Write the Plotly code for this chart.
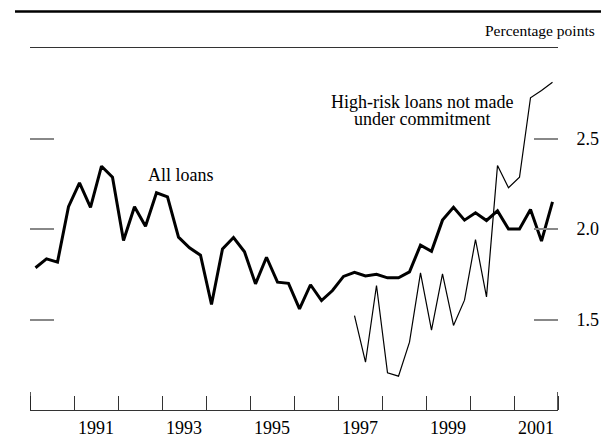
import plotly.graph_objects as go

# ---- data (quarterly survey, Feb/May/Aug/Nov) ----
start_year = 1990
quarters_all = [f"{start_year + i // 4} Q{i % 4 + 1}" for i in range(48)]
all_loans = [1.786, 1.835, 1.817, 2.123, 2.255, 2.12, 2.347, 2.286, 1.936, 2.123,
             2.015, 2.2, 2.178, 1.955, 1.896, 1.855, 1.583, 1.89, 1.953, 1.874,
             1.697, 1.844, 1.706, 1.70, 1.559, 1.692, 1.605, 1.66, 1.738, 1.761,
             1.741, 1.75, 1.73, 1.73, 1.763, 1.911, 1.877, 2.049, 2.12, 2.049,
             2.09, 2.047, 2.1, 2.0, 2.0, 2.108, 1.933, 2.15]
quarters_high = quarters_all[29:]
high_risk = [1.522, 1.264, 1.688, 1.205, 1.187, 1.375, 1.758, 1.441, 1.752, 1.467,
             1.607, 1.942, 1.625, 2.351, 2.228, 2.286, 2.725, 2.765, 2.811]

year_labels = ["1991", "1993", "1995", "1997", "1999", "2001"]
y_tick_vals = [1.5, 2.0, 2.5]
y_tick_text = ["1.5", "2.0", "2.5"]
x_range = [1990, 2002]
y_range = [1.0, 3.0]


def q_pos(q):
    y, qq = q.split(" Q")
    return int(y) + (int(qq) - 1) * 0.25 + 0.125


FONT = "Liberation Serif, Times New Roman, serif"

fig = go.Figure()
fig.add_trace(go.Scatter(x=[q_pos(q) for q in quarters_all], y=all_loans, mode="lines",
                         line=dict(color="black", width=3), name="All loans",
                         hoverinfo="skip"))
fig.add_trace(go.Scatter(x=[q_pos(q) for q in quarters_high], y=high_risk, mode="lines",
                         line=dict(color="black", width=1.2), yaxis="y2",
                         name="High-risk loans not made under commitment",
                         hoverinfo="skip"))

fig.update_layout(
    width=601, height=437,
    margin=dict(l=30, r=43, t=48, b=27, autoexpand=False),
    paper_bgcolor="white", plot_bgcolor="white",
    showlegend=False,
    font=dict(family=FONT, size=18, color="black"),
    xaxis=dict(
        range=x_range, showgrid=False, zeroline=False,
        showline=True, linecolor="#333", linewidth=1.3, mirror=True,
        tickvals=[int(y) + 0.5 for y in year_labels], ticktext=year_labels,
        ticks="", tickfont=dict(size=18, family=FONT), ticklabelstandoff=1,
        minor=dict(ticks="inside", tick0=x_range[0], dtick=1, ticklen=14,
                   tickcolor="#333", tickwidth=1.2, showgrid=False),
    ),
    # labels on the right
    yaxis=dict(
        range=y_range, side="right", showgrid=False, zeroline=False,
        showline=False, tickvals=y_tick_vals, ticktext=y_tick_text,
        ticks="outside", ticklen=14, tickcolor="rgba(0,0,0,0)",
        tickfont=dict(size=18, family=FONT),
    ),
    # gray inside tick marks on both sides
    yaxis2=dict(
        range=y_range, overlaying="y", side="right", showgrid=False,
        zeroline=False, showline=False, mirror="ticks",
        tickvals=y_tick_vals, showticklabels=False,
        ticks="inside", ticklen=24, tickcolor="#888", tickwidth=1.5,
    ),
)

# end ticks (taller) on the time axis
for xv in x_range:
    fig.add_shape(type="line", xref="x", yref="paper", x0=xv, x1=xv, y0=0, y1=0.05,
                  line=dict(color="#222", width=1.5))

# heavy rule across the top
fig.add_shape(type="line", xref="paper", yref="paper", x0=-0.0284, x1=1.09,
              y0=1.1008, y1=1.1008, line=dict(color="black", width=2.5))

fig.add_annotation(text="Percentage points", xref="paper", yref="paper",
                   x=1.0739, y=1.049, xanchor="right", yanchor="middle",
                   showarrow=False, font=dict(size=15.5, family=FONT))
fig.add_annotation(text="All loans", xref="x", yref="y", x=1993.44, y=2.298,
                   xanchor="center", yanchor="middle", showarrow=False,
                   font=dict(size=18, family=FONT))
fig.add_annotation(text="High-risk loans not made", xref="x", yref="y",
                   x=1998.91, y=2.704, xanchor="center", yanchor="middle",
                   showarrow=False, font=dict(size=18, family=FONT))
fig.add_annotation(text="under commitment", xref="x", yref="y",
                   x=1998.91, y=2.61, xanchor="center", yanchor="middle",
                   showarrow=False, font=dict(size=18, family=FONT))

fig.write_html("out.html", config={"displayModeBar": False},
               post_script="document.body.style.margin='0';document.body.style.padding='0';")
